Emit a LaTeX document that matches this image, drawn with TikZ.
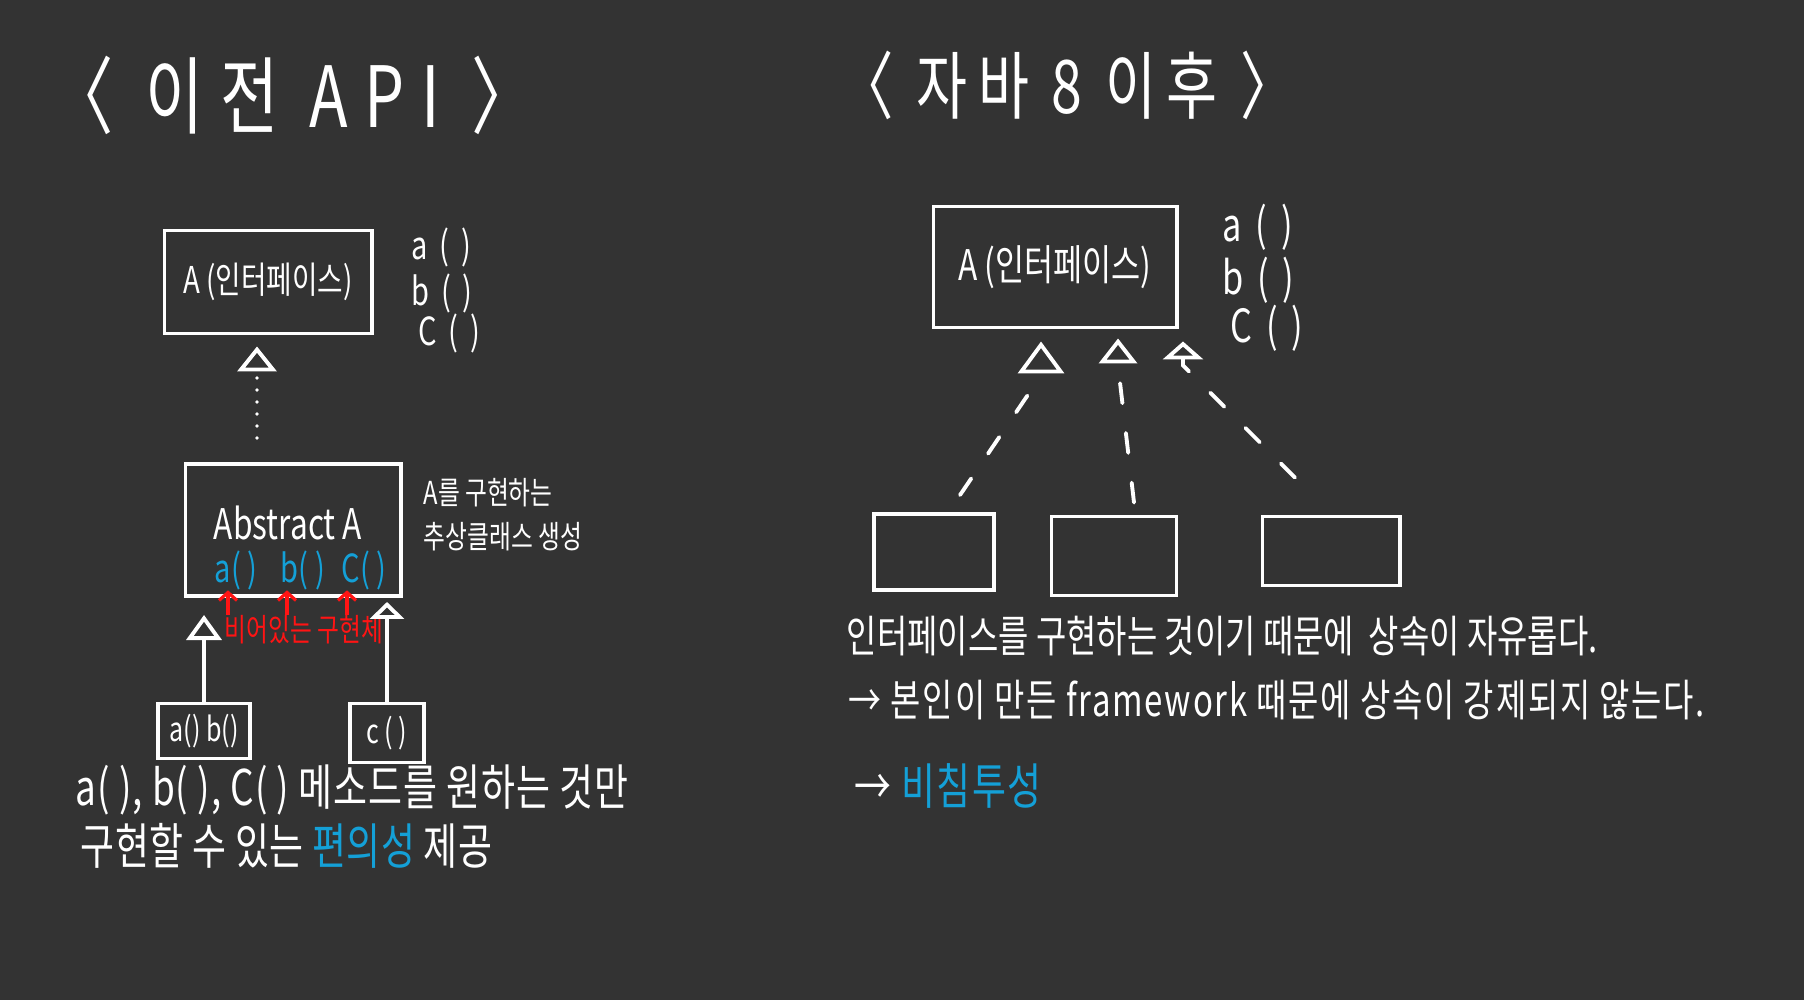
\documentclass[tikz,border=0pt]{standalone}
\usepackage{fontspec}
\setmainfont{Noto Sans CJK KR}[FakeStretch=0.75]
\usetikzlibrary{calc,arrows.meta}
\definecolor{board}{RGB}{51,51,51}
\definecolor{chalk}{RGB}{255,255,255}
\definecolor{pen}{RGB}{20,160,215}
\definecolor{redpen}{RGB}{255,20,20}
\newcommand{\fsz}[1]{\fontsize{#1}{#1}\selectfont}
\newcommand{\spread}[1]{\addfontfeature{LetterSpace=#1}}
\newcommand{\meth}[1]{#1\hspace{0.3em}(\hspace{0.3em})}

\begin{document}
\begin{tikzpicture}[x=0.01cm, y=-0.01cm,
  box/.style={draw=chalk, line width=1.1pt, inner sep=0pt, text=chalk},
  txt/.style={text=chalk, inner sep=0pt},
  umltip/.style 2 args={-{Triangle[length=#1,width=#2,fill=board]}},
  solidconn/.style={draw=chalk, line width=1.1pt},
  dashconn/.style={draw=chalk, line width=1.1pt, line cap=round, dash pattern=on 0.2cm off 0.3cm},
  dotconn/.style={draw=chalk, line width=1.1pt, line cap=round, dash pattern=on 0pt off 0.12cm},
  redarr/.style={draw=redpen, line width=0.9pt, -{Straight Barb[length=0.08cm,width=0.18cm]}}]
  \fill[board] (0,0) rectangle (1804,1000);

  \node[txt, anchor=west, font=\fsz{24}\spread{20}] (titleL) at (50,95) {〈 이전 API 〉};
  \node[txt, anchor=west, font=\fsz{21}\spread{14}] (titleR) at (838,85) {〈 자바 8 이후 〉};

  \node[box, minimum width=2.07cm, minimum height=1.03cm, font=\fsz{10.5}] (ifaceA) at (268,282) {A (인터페이스)};
  \node[txt, anchor=west, font=\fsz{11}] (la) at (411,247) {\meth{a}};
  \node[txt, anchor=west, font=\fsz{11}] (lb) at (411,293) {\meth{b}};
  \node[txt, anchor=west, font=\fsz{11}] (lc) at (418,333) {\meth{C}};

  \node[box, minimum width=2.15cm, minimum height=1.32cm] (absA) at (293,530) {};
  \node[txt, font=\fsz{12}] (absT) at (288,523) {Abstract A};
  \node[txt, text=pen, font=\fsz{11}] (ma) at (236,570) {a( )};
  \node[txt, text=pen, font=\fsz{11}] (mb) at (303,570) {b( )};
  \node[txt, text=pen, font=\fsz{11}] (mc) at (364,570) {C( )};
  \node[txt, text=redpen, font=\fsz{9}] (redlbl) at (304,630) {비어있는 구현체};
  \node[txt, anchor=west, align=left, font=\fontsize{9}{12.5}\selectfont] (note) at (423,515) {A를 구현하는\\추상클래스 생성};

  \node[box, minimum width=0.92cm, minimum height=0.55cm, font=\fsz{9.5}] (ab) at (204,731) {a()\,b()};
  \node[box, minimum width=0.74cm, minimum height=0.59cm, font=\fsz{9.5}] (cb) at (387,733) {c ( )};

  \draw[dotconn, umltip={0.25cm}{0.39cm}, shorten <=0.24cm, shorten >=0.11cm] ($(absA.north)+(-36,0)$) -- ($(ifaceA.south)+(-11,0)$);
  \draw[solidconn, umltip={0.25cm}{0.35cm}, shorten >=0.17cm] (ab.north) -- (ab.north |- absA.south);
  \draw[solidconn, umltip={0.17cm}{0.34cm}, shorten >=0.04cm] (cb.north) -- (cb.north |- absA.south);
  \draw[redarr] ($(redlbl.north -| ma.south)+(-8,0)$) -- ($(ma.south)+(-8,0)$);
  \draw[redarr] ($(redlbl.north -| mb.south)+(-16,0)$) -- ($(mb.south)+(-16,0)$);
  \draw[redarr] ($(redlbl.north -| mc.south)+(-17,0)$) -- ($(mc.south)+(-17,0)$);

  \node[txt, anchor=west, font=\fsz{14}\spread{2}] (sumL1) at (75,790) {a( ), b( ), C( ) 메소드를 원하는 것만};
  \node[txt, anchor=west, font=\fsz{14}\spread{1}] (sumL2) at (80,846) {구현할 수 있는 \textcolor{pen}{편의성} 제공};

  \node[box, minimum width=2.43cm, minimum height=1.21cm, font=\fsz{12}] (ifaceB) at (1055,267) {A (인터페이스)};
  \node[txt, anchor=west, font=\fsz{13}] (ra) at (1222,227) {\meth{a}};
  \node[txt, anchor=west, font=\fsz{13}] (rb) at (1222,280) {\meth{b}};
  \node[txt, anchor=west, font=\fsz{13}] (rc) at (1230,328) {\meth{C}};

  \node[box, minimum width=1.2cm, minimum height=0.76cm] (impl1) at (934,552) {};
  \node[box, minimum width=1.25cm, minimum height=0.79cm] (impl2) at (1114,556) {};
  \node[box, minimum width=1.37cm, minimum height=0.69cm] (impl3) at (1331,551) {};

  \draw[dashconn, umltip={0.32cm}{0.46cm}] ($(impl1.north)+(26,-17)$) -- ($(ifaceB.south)+(-14,46)$) -- ($(ifaceB.south)+(-14,12)$);
  \draw[dashconn, umltip={0.25cm}{0.38cm}] ($(impl2.north)+(20,-12)$) -- ($(ifaceB.south)+(63,36)$) -- ($(ifaceB.south)+(63,9)$);
  \draw[dashconn, umltip={0.18cm}{0.40cm}] ($(impl3.north)+(-36,-37)$) -- ($(ifaceB.south)+(128,36)$) -- ($(ifaceB.south)+(128,12)$);

  \node[txt, anchor=west, font=\fsz{12.5}] (why1) at (846,636) {인터페이스를 구현하는 것이기 때문에 \ 상속이 자유롭다.};
  \node[txt, anchor=west, font=\fsz{12.5}\spread{4}] (why2) at (848,700) {→ 본인이 만든 framework 때문에 상속이 강제되지 않는다.};
  \node[txt, anchor=west, font=\fsz{14}\spread{3}] (why3) at (854,786) {→ \textcolor{pen}{비침투성}};
\end{tikzpicture}
\end{document}
